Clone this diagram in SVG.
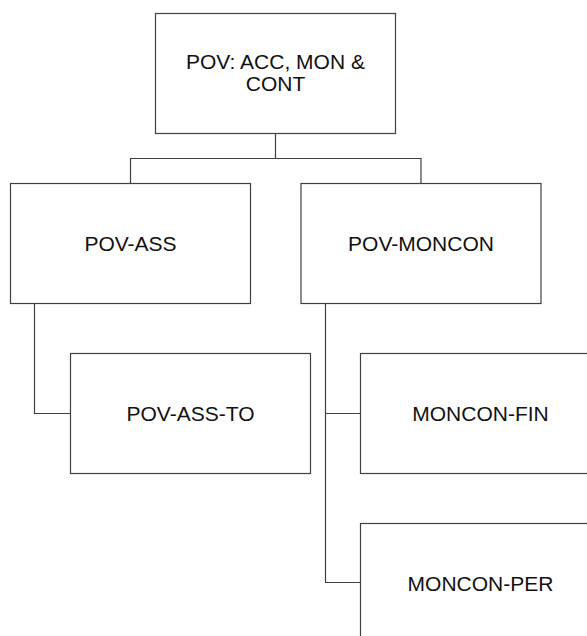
<svg xmlns="http://www.w3.org/2000/svg" width="587" height="636" viewBox="0 0 587 636">
<style>
.box{fill:#fff;stroke:#404040;stroke-width:1.2}
.lbl{font-family:"Liberation Sans",Arial,sans-serif;font-size:21px;fill:#111;text-anchor:middle}
.con{fill:none;stroke:#404040;stroke-width:1.2}
</style>
<rect width="587" height="636" fill="#fff"/>
<g id="connectors">
<path class="con" d="M275.5 133.5V158.5M130.5 183.5V158.5H421V183.5"/>
<path class="con" d="M34.5 303.5V413.5H70.5"/>
<path class="con" d="M325.5 303.5V582.5H360.5M325.5 413.5H360.5"/>
</g>
<g id="root">
<rect class="box" x="155.5" y="13.5" width="240" height="120"/>
<text class="lbl" x="275.5" y="68.5">POV: ACC, MON &amp;</text>
<text class="lbl" x="275.5" y="91">CONT</text>
</g>
<g id="pov-ass">
<rect class="box" x="10.5" y="183.5" width="240" height="120"/>
<text class="lbl" x="130.5" y="251">POV-ASS</text>
</g>
<g id="pov-moncon">
<rect class="box" x="301" y="183.5" width="240" height="120"/>
<text class="lbl" x="421" y="251">POV-MONCON</text>
</g>
<g id="pov-ass-to">
<rect class="box" x="70.5" y="353.5" width="240" height="120"/>
<text class="lbl" x="190.5" y="421">POV-ASS-TO</text>
</g>
<g id="moncon-fin">
<rect class="box" x="360.5" y="353.5" width="240" height="120"/>
<text class="lbl" x="480.5" y="421">MONCON-FIN</text>
</g>
<g id="moncon-per">
<rect class="box" x="360.5" y="523.5" width="240" height="120"/>
<text class="lbl" x="480.5" y="591">MONCON-PER</text>
</g>
</svg>
